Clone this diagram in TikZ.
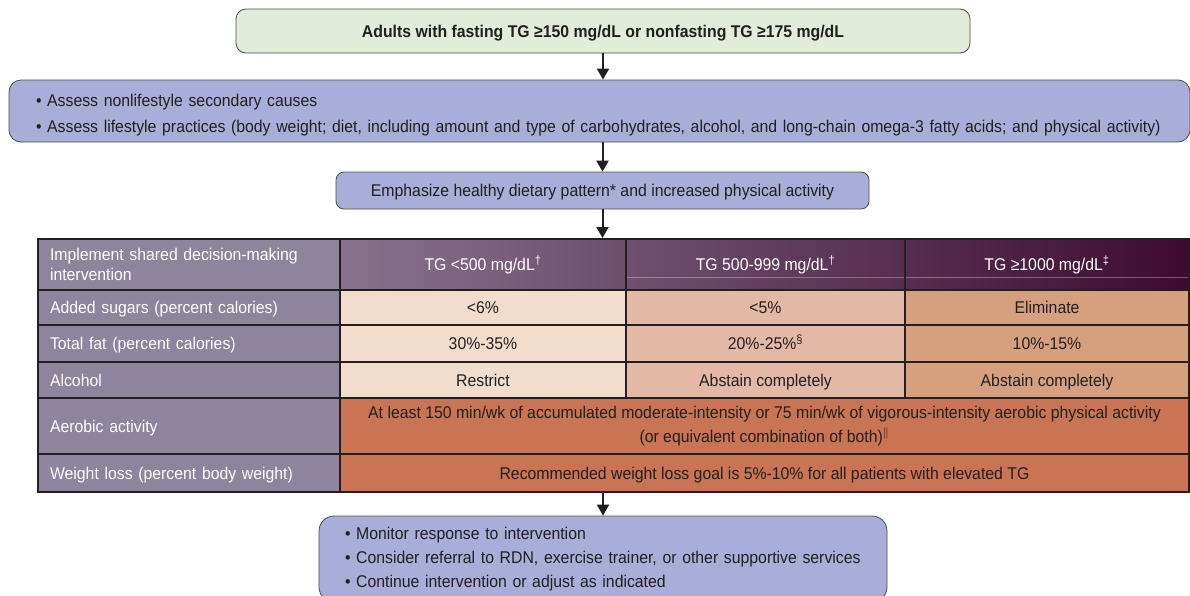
\documentclass[tikz,border=0pt]{standalone}
\usepackage{fontspec}
\setmainfont[FakeStretch=0.93]{Liberation Sans}
\usetikzlibrary{arrows.meta,positioning,calc}

\definecolor{ink}{HTML}{231F20}
\definecolor{startfill}{HTML}{E2ECDA}
\definecolor{stepfill}{HTML}{A8AED7}
\definecolor{labfill}{HTML}{8F849D}
\definecolor{lowfill}{HTML}{F2DDCD}
\definecolor{midfill}{HTML}{E3B9A6}
\definecolor{highfill}{HTML}{D6A07F}
\definecolor{allfill}{HTML}{C97452}
\definecolor{hdleft}{HTML}{87738D}
\definecolor{hdright}{HTML}{3E0B30}

\begin{document}
\begin{tikzpicture}[x=1pt, y=-1pt,
  font=\fontsize{17}{20}\selectfont, text=ink,
  box/.style={draw=black!70, line width=0.8pt, rounded corners=10pt, fill=stepfill},
  arr/.style={-{Triangle[width=12pt,length=11pt]}, line width=2pt, draw=ink},
  cell/.style={draw=ink, line width=2pt, anchor=north west, inner sep=0pt, align=center,
    text height=12pt, text depth=0pt},
  lab/.style={cell, fill=labfill, text=white, align=left, inner xsep=12pt, text width=278pt},
  twolines/.style={text height=, text depth=},
]
\useasboundingbox (0,0) rectangle (1190,595);

% flow boxes
\node[box, fill=startfill, font=\fontsize{17}{20}\selectfont\bfseries, text height=12pt, text depth=0pt,
  minimum width=734pt, minimum height=44pt] (adults) at (603,31)
  {Adults with fasting TG ≥150 mg/dL or nonfasting TG ≥175 mg/dL};
\node[box, rounded corners=12pt, align=left, text width=1127pt, inner xsep=27pt,
  minimum height=62pt, font=\fontsize{17}{26}\selectfont] (assess) at (599.5,111)
  {\rule{0pt}{20pt}• Assess nonlifestyle secondary causes\\
   \mbox{• Assess lifestyle practices (body weight; diet, including amount and type of carbohydrates, alcohol, and long-chain omega-3 fatty acids; and physical activity)}};
\node[box, rounded corners=8pt, text height=12pt, text depth=0pt,
  minimum width=533pt, minimum height=37pt] (emph) at (602.5,190.5)
  {Emphasize healthy dietary pattern* and increased physical activity};

% table
\shade[left color=hdleft, right color=hdright] (339,238) rectangle (1188,289);
\draw[white, opacity=0.3, line width=0.6pt] (625,277) -- (1188,277);
\node[lab, twolines, minimum height=51pt, font=\fontsize{17}{20}\selectfont] (hdlab) at (37,238)
  {Implement shared decision-making\\intervention};
\node[cell, text=white, minimum width=286pt, minimum height=51pt] (tglow) at (339,238) {TG <500 mg/dL\textsuperscript{†}};
\node[cell, text=white, minimum width=279pt, minimum height=51pt] (tgmid) at (625,238) {TG 500-999 mg/dL\textsuperscript{†}};
\node[cell, text=white, minimum width=284pt, minimum height=51pt] (tghigh) at (904,238) {TG ≥1000 mg/dL\textsuperscript{‡}};

\node[lab, minimum height=35pt] (sugar) at (37,289) {Added sugars (percent calories)};
\node[cell, fill=lowfill, minimum width=286pt, minimum height=35pt] (sugarlow) at (339,289) {<6\%};
\node[cell, fill=midfill, minimum width=279pt, minimum height=35pt] (sugarmid) at (625,289) {<5\%};
\node[cell, fill=highfill, minimum width=284pt, minimum height=35pt] (sugarhigh) at (904,289) {Eliminate};

\node[lab, minimum height=37pt] (fat) at (37,324) {Total fat (percent calories)};
\node[cell, fill=lowfill, minimum width=286pt, minimum height=37pt] (fatlow) at (339,324) {30\%-35\%};
\node[cell, fill=midfill, minimum width=279pt, minimum height=37pt] (fatmid) at (625,324) {20\%-25\%\textsuperscript{§}};
\node[cell, fill=highfill, minimum width=284pt, minimum height=37pt] (fathigh) at (904,324) {10\%-15\%};

\node[lab, minimum height=36pt] (alc) at (37,361) {Alcohol};
\node[cell, fill=lowfill, minimum width=286pt, minimum height=36pt] (alclow) at (339,361) {Restrict};
\node[cell, fill=midfill, minimum width=279pt, minimum height=36pt] (alcmid) at (625,361) {Abstain completely};
\node[cell, fill=highfill, minimum width=284pt, minimum height=36pt] (alchigh) at (904,361) {Abstain completely};

\node[lab, minimum height=56pt] (aero) at (37,397) {Aerobic activity};
\node[cell, twolines, fill=allfill, minimum width=849pt, minimum height=56pt, font=\fontsize{17}{24}\selectfont] (aeroall) at (339,397)
  {At least 150 min/wk of accumulated moderate-intensity or 75 min/wk of vigorous-intensity aerobic physical activity\\
   (or equivalent combination of both)\textsuperscript{$\|$}};

\node[lab, minimum height=38pt] (wl) at (37,453) {Weight loss (percent body weight)};
\node[cell, fill=allfill, minimum width=849pt, minimum height=38pt] (wlall) at (339,453)
  {Recommended weight loss goal is 5\%-10\% for all patients with elevated TG};

\node[box, rounded corners=15pt, align=left, text width=516pt, inner xsep=26pt,
  minimum height=86pt, font=\fontsize{17}{24}\selectfont] (monitor) at (603,559)
  {• Monitor response to intervention\\
   • Consider referral to RDN, exercise trainer, or other supportive services\\
   • Continue intervention or adjust as indicated};

% arrows
\draw[arr] (adults.south) -- (adults.south |- assess.north);
\draw[arr] (emph.south |- assess.south) -- (emph.north);
\draw[arr] (emph.south) -- (emph.south |- tglow.north);
\draw[arr] (monitor.north |- wlall.south) -- (monitor.north);
\end{tikzpicture}
\end{document}
